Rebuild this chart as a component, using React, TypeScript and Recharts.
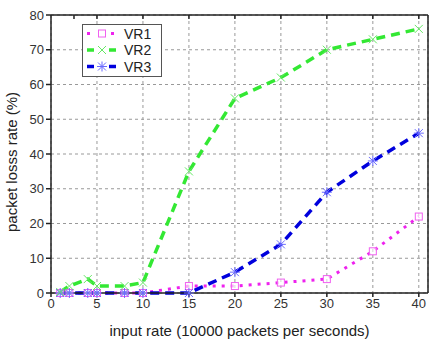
import React from 'react';
import { LineChart, Line, XAxis, YAxis, CartesianGrid } from 'recharts';

const inputRates = [1, 2, 4, 5, 8, 10, 15, 20, 25, 30, 35, 40];
const vr1 = [0, 0, 0, 0, 0, 0, 2, 2, 3, 4, 12, 22];
const vr2 = [0.3, 2, 4, 2, 2, 3, 35, 56, 62, 70, 73, 76];
const vr3 = [0, 0, 0, 0, 0, 0, 0, 6, 14, 29, 38, 46];
const seriesNames = ['VR1', 'VR2', 'VR3'];
const xTicks = [0, 5, 10, 15, 20, 25, 30, 35, 40];
const xMinorTicks = [2.5, 5, 7.5, 10, 12.5, 15, 17.5, 20, 22.5, 25, 27.5, 30, 32.5, 35, 37.5, 40];
const yTicks = [0, 10, 20, 30, 40, 50, 60, 70, 80];
const yMinorTicks = [5, 10, 15, 20, 25, 30, 35, 40, 45, 50, 55, 60, 65, 70, 75];

const data = inputRates.map((x, i) => ({ x, vr1: vr1[i], vr2: vr2[i], vr3: vr3[i] }));

const FONT = '"Liberation Sans", Arial, sans-serif';

const SquareDot = (p: any) => {
  const { cx, cy } = p;
  if (cx == null || cy == null) return <g />;
  return <rect x={cx - 3.5} y={cy - 3.5} width={7} height={7} fill="#fff" fillOpacity={0.6} stroke="#f060f0" strokeWidth={1} />;
};
const CrossDot = (p: any) => {
  const { cx, cy } = p;
  if (cx == null || cy == null) return <g />;
  const s = 4;
  return (
    <g stroke="#66e866" strokeWidth={1}>
      <line x1={cx - s} y1={cy - s} x2={cx + s} y2={cy + s} />
      <line x1={cx - s} y1={cy + s} x2={cx + s} y2={cy - s} />
    </g>
  );
};
const StarDot = (p: any) => {
  const { cx, cy } = p;
  if (cx == null || cy == null) return <g />;
  const s = 4;
  return (
    <g stroke="#6a6aff" strokeWidth={1}>
      <line x1={cx - s} y1={cy - s} x2={cx + s} y2={cy + s} />
      <line x1={cx - s} y1={cy + s} x2={cx + s} y2={cy - s} />
      <line x1={cx} y1={cy - s - 1} x2={cx} y2={cy + s + 1} />
      <line x1={cx - s - 1} y1={cy} x2={cx + s + 1} y2={cy} />
    </g>
  );
};

const emptyTick = () => <g />;

const LegendBox = () => {
  const rows = [
    { name: seriesNames[0], color: '#ee22ee', dash: '3 5', w: 3, Dot: SquareDot },
    { name: seriesNames[1], color: '#33e833', dash: '7 4', w: 3.5, Dot: CrossDot },
    { name: seriesNames[2], color: '#0000dd', dash: '7 4', w: 3.5, Dot: StarDot },
  ];
  return (
    <svg width={80} height={53} style={{ display: 'block' }}>
      <rect x={0.5} y={0.5} width={79} height={52} fill="#fff" stroke="#555" strokeWidth={1} />
      {rows.map((r, i) => {
        const y = 9.5 + i * 16.5;
        const D = r.Dot;
        return (
          <g key={r.name}>
            <line x1={5} y1={y} x2={35} y2={y} stroke={r.color} strokeWidth={r.w} strokeDasharray={r.dash} />
            <rect x={13} y={y - 5} width={14} height={10} fill="#fff" />
            <D cx={20} cy={y} />
            <text x={42} y={y + 5} fontSize={14} fontFamily={FONT} fill="#222">{r.name}</text>
          </g>
        );
      })}
    </svg>
  );
};

export default function App() {
  return (
    <div style={{ position: 'absolute', left: 0, top: 0, width: 431, height: 343, background: '#fff' }}>
      <LineChart width={431} height={343} data={data} margin={{ top: 15, right: 3, bottom: 0, left: 0 }}>
        <CartesianGrid xAxisId="main" yAxisId="main" stroke="#999" strokeDasharray="3 3" strokeWidth={1} />
        <XAxis
          xAxisId="main"
          dataKey="x"
          type="number"
          domain={[0, 41]}
          ticks={xTicks}
          allowDataOverflow
          height={50}
          stroke="#222"
          strokeWidth={1.5}
          tickSize={4}
          tick={{ fontSize: 13, fontFamily: FONT, fill: '#333' }}
          label={{ value: 'input rate (10000 packets per seconds)', position: 'insideBottom', offset: 7, fontSize: 15, fontFamily: FONT, fill: '#222' }}
        />
        <XAxis
          xAxisId="top"
          dataKey="x"
          type="number"
          orientation="top"
          mirror
          domain={[0, 41]}
          ticks={xMinorTicks}
          height={1}
          stroke="#222"
          strokeWidth={1.5}
          tickSize={4}
          tick={emptyTick}
        />
        <YAxis
          yAxisId="main"
          type="number"
          domain={[0, 80]}
          ticks={yTicks}
          width={51}
          stroke="#222"
          strokeWidth={1.5}
          tickSize={5}
          tick={{ fontSize: 13, fontFamily: FONT, fill: '#333' }}
          label={{ value: 'packet losss rate (%)', angle: -90, position: 'insideLeft', offset: 12, dy: 8, style: { textAnchor: 'middle' }, fontSize: 15, fontFamily: FONT, fill: '#222' }}
        />
        <YAxis
          yAxisId="right"
          type="number"
          orientation="right"
          mirror
          domain={[0, 80]}
          ticks={yMinorTicks}
          width={1}
          stroke="#222"
          strokeWidth={1.5}
          tickSize={4}
          tick={emptyTick}
        />
        <Line xAxisId="main" yAxisId="main" type="linear" dataKey="vr1" name={seriesNames[0]} stroke="#ee22ee" strokeWidth={3} strokeDasharray="3 6" dot={<SquareDot />} activeDot={false} isAnimationActive={false} />
        <Line xAxisId="main" yAxisId="main" type="linear" dataKey="vr3" name={seriesNames[2]} stroke="#0000dd" strokeWidth={3.5} strokeDasharray="9 6" dot={<StarDot />} activeDot={false} isAnimationActive={false} />
        <Line xAxisId="main" yAxisId="main" type="linear" dataKey="vr2" name={seriesNames[1]} stroke="#33e833" strokeWidth={3.5} strokeDasharray="9 6" dot={<CrossDot />} activeDot={false} isAnimationActive={false} />
      </LineChart>
      <div style={{ position: 'absolute', left: 82, top: 24 }}>
        <LegendBox />
      </div>
    </div>
  );
}
